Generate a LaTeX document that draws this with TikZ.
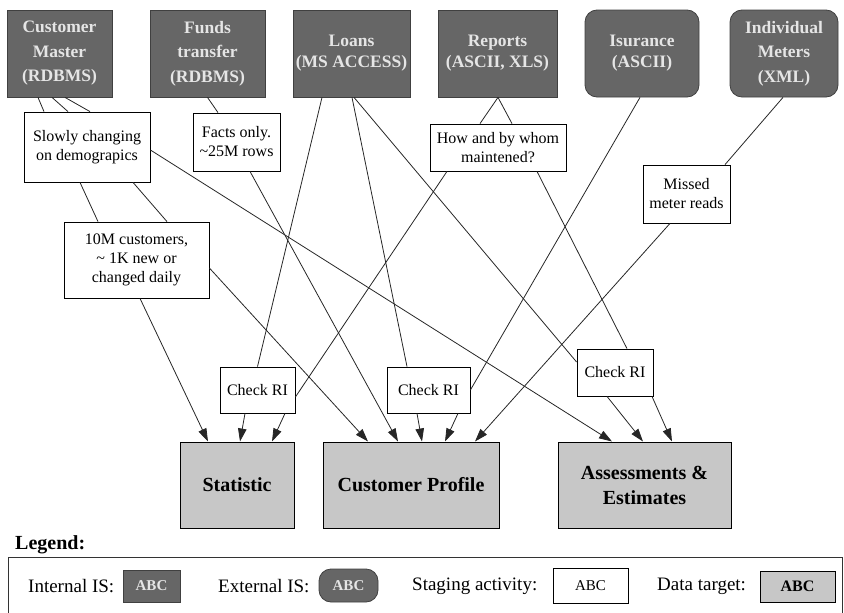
\documentclass[tikz,border=0pt]{standalone}
\usepackage{fontspec}
\setmainfont{Liberation Serif}
\usetikzlibrary{arrows.meta}

\begin{document}
\begin{tikzpicture}[x=1pt,y=-1pt,
  src/.style={draw=black!75, fill=black!60, text=white!90!black, line width=0.8pt,
    inner sep=0pt, align=center, minimum height=87pt,
    font=\fontsize{17.5}{21}\selectfont\bfseries},
  tall/.style={font=\fontsize{17.5}{24.5}\selectfont\bfseries},
  ext/.style={src, rounded corners=12pt},
  stage/.style={draw=black, fill=white, line width=0.8pt, inner sep=0pt,
    align=center, font=\fontsize{16}{19}\selectfont},
  target/.style={draw=black, fill=black!22, line width=1pt, inner sep=0pt,
    align=center, minimum height=86pt, font=\fontsize{20}{25}\selectfont\bfseries},
  link/.style={draw=black!85, line width=0.8pt},
  feed/.style={link, -{Triangle[length=13pt,width=8.5pt]}},
  legtext/.style={anchor=west, inner sep=0pt, font=\fontsize{19}{22}\selectfont},
]
\useasboundingbox (0,0) rectangle (844,613);

% information systems (sources)
\node[src, tall, minimum width=105pt] (cm) at (59.5,53.5) {Customer\\Master\\(RDBMS)};
\node[src, tall, minimum width=115pt] (ft) at (207.5,53.5) {Funds\\transfer\\(RDBMS)};
\node[src, minimum width=117pt] (ln) at (351.5,53.5) {Loans\\(MS ACCESS)};
\node[src, minimum width=119pt] (rp) at (497.5,53.5) {Reports\\(ASCII, XLS)};
\node[ext, minimum width=114pt] (is) at (642,53.5) {Isurance\\(ASCII)};
\node[ext, tall, minimum width=108pt] (im) at (784,53.5) {Individual\\Meters\\(XML)};

% staging activities
\node[stage, minimum width=126pt, minimum height=70pt] (sc) at (87,147) {Slowly changing\\on demograpics};
\node[stage, minimum width=87pt, minimum height=58pt] (fo) at (236.5,142) {Facts only.\\\textasciitilde25M rows};
\node[stage, minimum width=145pt, minimum height=76pt] (tm) at (136.5,260) {10M customers,\\\textasciitilde\ 1K new or\\changed daily};
\node[stage, minimum width=136pt, minimum height=47pt] (hw) at (498,147.5) {How and by whom\\maintened?};
\node[stage, minimum width=87pt, minimum height=58pt] (mm) at (686.5,194) {Missed\\meter reads};
\node[stage, minimum width=75pt, minimum height=46pt] (c1) at (257.5,390) {Check RI};
\node[stage, minimum width=83pt, minimum height=46pt] (c2) at (428.5,390) {Check RI};
\node[stage, minimum width=76pt, minimum height=47pt] (c3) at (615,372.5) {Check RI};

% data targets
\node[target, minimum width=114pt] (st) at (237,485) {Statistic};
\node[target, minimum width=176pt] (cp) at (411,485) {Customer Profile};
\node[target, minimum width=173pt] (as) at (644.5,485) {Assessments \&\\Estimates};

% sources into staging
\draw[link] ([xshift=-21.5pt]cm.south) -- ([xshift=-43pt]sc.north);
\draw[link] ([xshift=-7.5pt]cm.south) -- ([xshift=-19pt]sc.north);
\draw[link] ([xshift=5.5pt]cm.south) -- ([xshift=3pt]sc.north);
\draw[link] (ft.south) -- ([xshift=-18.5pt]fo.north);
\draw[link] ([xshift=-29.5pt]ln.south) -- (c1.north);
\draw[link] ([xshift=0.5pt]ln.south) -- ([xshift=-21.5pt]c2.north);
\draw[link] ([xshift=2.5pt]ln.south) -- ([yshift=10.5pt]c3.west);
\draw[link] ([xshift=0.5pt]rp.south) -- ([xshift=-18pt]hw.north);
\draw[link] ([xshift=0.5pt]rp.south) -- ([xshift=14pt]hw.north);
\draw[link] ([xshift=-2pt]is.south) -- (c2.east);
\draw[link] ([xshift=-1pt]im.south) -- ([xshift=38.5pt]mm.north);

% staging into staging
\draw[link] ([xshift=-7pt]sc.south) -- ([xshift=-38.5pt]tm.north);
\draw[link] ([xshift=46pt]sc.south) -- ([xshift=30.5pt]tm.north);
\draw[link] ([xshift=-51pt]hw.south) -- ([yshift=-7pt]c1.east);
\draw[link] ([xshift=39pt]hw.south) -- ([xshift=12pt]c3.north);

% feeds into data targets
\draw[feed] ([yshift=-3pt]sc.east) -- ([xshift=-32.5pt]as.north);
\draw[feed] ([xshift=3.5pt]tm.south) -- ([xshift=-29pt]st.north);
\draw[feed] ([yshift=-8pt]tm.east) -- ([xshift=-43pt]cp.north);
\draw[feed] ([xshift=13.5pt]fo.south) -- ([xshift=-13pt]cp.north);
\draw[feed] ([xshift=-16.5pt]mm.south) -- ([xshift=64pt]cp.north);
\draw[feed] ([xshift=-12.5pt]c1.south) -- ([xshift=3pt]st.north);
\draw[feed] ([xshift=27.5pt]c1.south) -- ([xshift=35pt]st.north);
\draw[feed] ([xshift=-11.5pt]c2.south) -- ([xshift=11pt]cp.north);
\draw[feed] ([xshift=29.5pt]c2.south) -- ([xshift=34pt]cp.north);
\draw[feed] ([xshift=-8pt]c3.south) -- ([xshift=-1.5pt]as.north);
\draw[feed] ([xshift=37pt]c3.south) -- ([xshift=27.5pt]as.north);

% legend
\node[anchor=west, inner sep=0pt, font=\fontsize{20}{24}\selectfont\bfseries] (lgt) at (15,545) {Legend:};
\coordinate (fbl) at (8,613);
\coordinate (fbr) at (842,613);
\draw[line width=1pt, black!80] (fbl) |- (842,557) -- (fbr);
\node[legtext] (li) at (28,586) {Internal IS:};
\node[src, minimum width=57pt, minimum height=32pt, font=\fontsize{15}{17}\selectfont\bfseries] (lib) at (151.5,586) {ABC};
\node[legtext] (le) at (218,586) {External IS:};
\node[ext, minimum width=59pt, minimum height=33pt, font=\fontsize{15}{17}\selectfont\bfseries] (leb) at (348.5,585.5) {ABC};
\node[legtext] (ls) at (412,586) {Staging activity:};
\node[stage, minimum width=75pt, minimum height=35pt, font=\fontsize{15}{17}\selectfont] (lsb) at (590.5,585.5) {ABC};
\node[legtext] (ld) at (657,586) {Data target:};
\node[target, minimum width=75pt, minimum height=31pt, font=\fontsize{16}{18}\selectfont\bfseries] (ldb) at (797.5,586.5) {ABC};
\end{tikzpicture}
\end{document}
